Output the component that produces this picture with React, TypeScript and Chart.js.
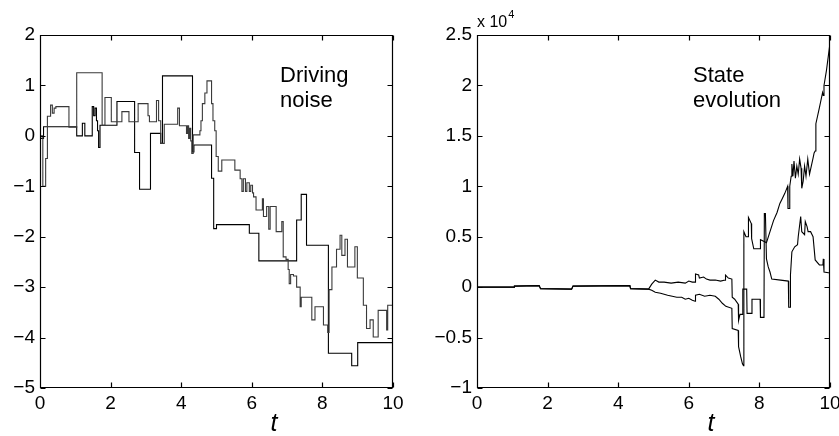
import { useEffect, useRef } from 'react';
import { Chart, registerables } from 'chart.js';

Chart.register(...registerables);

// ---------------- data ----------------
// Left panel: "Driving noise" (two step sample paths)
const noiseTimesA = [0, 0.08, 0.16, 0.21, 0.3, 0.35, 0.4, 0.45, 0.82, 1.04, 1.76, 1.84, 2.02, 2.32, 2.52, 2.78, 3.06, 3.1, 3.3, 3.36, 3.42, 3.52, 3.9, 3.95, 4.15, 4.18, 4.21, 4.24, 4.27, 4.3, 4.34, 4.53, 4.56, 4.6, 4.67, 4.73, 4.86, 4.9, 4.95, 4.99, 5.05, 5.15, 5.52, 5.67, 5.72, 5.76, 5.82, 5.86, 5.93, 5.97, 6.02, 6.05, 6.12, 6.3, 6.33, 6.42, 6.48, 6.52, 6.69, 6.85, 6.89, 6.97, 7.03, 7.06, 7.1, 7.18, 7.27, 7.37, 7.4, 7.7, 7.79, 8.03, 8.15, 8.19, 8.27, 8.4, 8.5, 8.55, 8.64, 8.71, 8.92, 8.99, 9.16, 9.25, 9.35, 9.44, 9.58, 9.82, 9.85, 10];
const noiseValuesA = [0, -1.0, -0.45, 0.39, 0.61, 0.45, 0.55, 0.58, 0.17, 1.25, 0.21, 0.76, 0.28, 0.48, 0.28, 0.64, 0.4, 0.28, 0.7, 0.3, -0.15, 0.23, 0.55, 0.2, 0.05, 0.2, -0.05, 0.15, -0.1, -0.35, 0.02, 0.1, 0.3, 0.64, 0.85, 1.09, 0.64, 0.3, 0.1, -0.41, -0.7, -0.48, -0.68, -0.85, -1.1, -0.85, -1.1, -0.93, -1.1, -0.98, -1.13, -1.21, -1.47, -1.25, -1.6, -1.4, -1.85, -1.4, -1.9, -1.7, -2.4, -2.45, -2.65, -2.93, -2.75, -2.78, -3.0, -3.39, -3.2, -3.65, -3.39, -3.75, -3.9, -3.05, -2.6, -2.25, -1.97, -2.37, -2.05, -2.6, -2.2, -2.82, -3.36, -3.82, -3.65, -3.99, -3.46, -3.85, -3.36, -3.36];

const noiseTimesB = [0, 0.1, 1.04, 1.2, 1.27, 1.48, 1.52, 1.56, 1.6, 1.63, 1.66, 1.7, 2.18, 2.68, 2.82, 3.13, 3.42, 3.47, 4.32, 4.36, 4.86, 4.92, 5.0, 5.93, 6.2, 7.27, 7.4, 7.55, 8.17, 8.83, 9.0, 10];
const noiseValuesB = [-0.05, 0.18, 0.0, 0.25, 0.0, 0.58, 0.4, 0.55, 0.3, 0.1, -0.23, 0.21, 0.68, -0.33, -1.06, 0.05, -0.15, 1.19, -0.32, -0.18, -0.84, -1.84, -1.76, -1.93, -2.48, -1.67, -1.16, -2.17, -4.31, -4.56, -4.1, -4.1];

// Right panel: "State evolution" (values in units of 10^4)
const stateTimesC = [0, 1.05, 1.06, 1.76, 1.8, 2.68, 2.72, 4.33, 4.35, 4.86, 4.95, 5.0, 5.05, 5.15, 5.3, 5.5, 5.7, 5.9, 6.0, 6.1, 6.18, 6.19, 6.28, 6.3, 6.42, 6.5, 6.6, 6.75, 6.9, 7.03, 7.04, 7.12, 7.22, 7.23, 7.3, 7.4, 7.41, 7.45, 7.52, 7.53, 7.64, 7.65, 7.78, 7.79, 8.02, 8.03, 8.13, 8.14, 8.17, 8.2, 8.25, 8.3, 8.35, 8.6, 8.82, 8.83, 8.87, 8.88, 8.92, 9.0, 9.08, 9.1, 9.17, 9.2, 9.28, 9.3, 9.35, 9.38, 9.45, 9.52, 9.58, 9.7, 9.8, 9.81, 9.83, 10];
const stateValuesC = [0, 0, 0.01, 0.015, -0.015, -0.02, 0.01, 0.015, -0.015, -0.02, 0.03, 0.05, 0.07, 0.05, 0.05, 0.04, 0.05, 0.04, 0.06, 0.05, 0.05, 0.13, 0.12, 0.09, 0.1, 0.08, 0.07, 0.07, 0.06, 0.07, 0.12, 0.09, 0.08, -0.1, -0.12, -0.17, -0.33, -0.27, -0.27, -0.02, -0.02, -0.26, -0.26, -0.12, -0.12, -0.3, -0.3, 0.73, 0.73, 0.28, 0.2, 0.15, 0.08, 0.07, 0.06, -0.2, -0.2, 0.12, 0.35, 0.4, 0.42, 0.5, 0.7, 0.55, 0.52, 0.65, 0.6, 0.55, 0.55, 0.5, 0.27, 0.22, 0.22, 0.28, 0.15, 0.14];

const stateTimesD = [0, 1.05, 1.06, 1.76, 1.8, 2.68, 2.72, 4.33, 4.35, 4.86, 4.95, 5.05, 5.2, 5.4, 5.66, 5.8, 5.9, 6.0, 6.1, 6.18, 6.19, 6.3, 6.45, 6.6, 6.75, 6.85, 6.95, 7.05, 7.22, 7.23, 7.4, 7.41, 7.47, 7.52, 7.55, 7.56, 7.62, 7.68, 7.69, 7.77, 7.78, 7.84, 8.02, 8.03, 8.15, 8.2, 8.3, 8.4, 8.5, 8.58, 8.65, 8.72, 8.8, 8.81, 8.84, 8.86, 8.9, 8.92, 8.95, 8.98, 9.02, 9.06, 9.1, 9.14, 9.18, 9.2, 9.24, 9.28, 9.32, 9.37, 9.42, 9.47, 9.52, 9.55, 9.58, 9.6, 9.7, 9.79, 9.81, 9.83, 9.9, 10];
const stateValuesD = [0, 0, 0.01, 0.015, -0.015, -0.02, 0.01, 0.015, -0.015, -0.02, -0.03, -0.05, -0.06, -0.08, -0.1, -0.1, -0.12, -0.11, -0.13, -0.14, -0.08, -0.07, -0.09, -0.08, -0.09, -0.12, -0.16, -0.19, -0.21, -0.41, -0.43, -0.59, -0.69, -0.76, -0.78, 0.55, 0.5, 0.5, 0.69, 0.63, 0.48, 0.38, 0.38, 0.47, 0.45, 0.44, 0.55, 0.66, 0.74, 0.83, 0.88, 0.93, 1.0, 0.78, 0.78, 1.0, 1.1, 1.22, 1.1, 1.25, 1.08, 1.2, 1.12, 1.27, 1.18, 0.98, 1.05, 1.2, 1.1, 1.27, 1.12, 1.2, 1.28, 1.33, 1.35, 1.62, 1.78, 1.93, 1.9, 2.0, 2.15, 2.42];

// Tick values
const timeTicks = [0, 2, 4, 6, 8, 10];
const noiseTicks = [-5, -4, -3, -2, -1, 0, 1, 2];
const stateTicks = [-1, -0.5, 0, 0.5, 1, 1.5, 2, 2.5];

// ---------------- helpers ----------------
const FONT = "'Liberation Sans', Arial, Helvetica, sans-serif";
const fmt = (v: number) => (v < 0 ? '\u2212' + String(Math.abs(v)) : String(v));
const pts = (ts: number[], vs: number[]) => ts.map((t, i) => ({ x: t, y: vs[i] }));

const framePlugin = {
  id: 'frameTicks',
  afterDatasetsDraw(chart: any, _args: any, opts: any) {
    const { ctx, chartArea: a } = chart;
    const xs = chart.scales.x;
    const ys = chart.scales.y;
    const L = Math.round(a.left) + 0.5;
    const R = Math.round(a.right) - 0.5;
    const T = Math.round(a.top) + 0.5;
    const B = Math.round(a.bottom) - 0.5;
    const len = 5;
    ctx.save();
    ctx.strokeStyle = '#000';
    ctx.lineWidth = 1.2;
    ctx.beginPath();
    ctx.rect(L, T, R - L, B - T);
    xs.ticks.forEach((t: any) => {
      const p = Math.round(xs.getPixelForValue(t.value)) + 0.5;
      ctx.moveTo(p, B);
      ctx.lineTo(p, B - len);
      ctx.moveTo(p, T);
      ctx.lineTo(p, T + len);
    });
    ys.ticks.forEach((t: any) => {
      const p = Math.round(ys.getPixelForValue(t.value)) + 0.5;
      ctx.moveTo(L, p);
      ctx.lineTo(L + len, p);
      ctx.moveTo(R, p);
      ctx.lineTo(R - len, p);
    });
    ctx.stroke();

    ctx.fillStyle = '#000';
    ctx.textBaseline = 'alphabetic';
    ctx.textAlign = 'left';
    if (opts.note) {
      const n = opts.note;
      ctx.font = `${n.size}px ${FONT}`;
      const nx = xs.getPixelForValue(n.x);
      const ny = ys.getPixelForValue(n.y);
      n.lines.forEach((s: string, i: number) => ctx.fillText(s, nx, ny + i * n.gap));
    }
    if (opts.xLabel) {
      const l = opts.xLabel;
      ctx.font = `italic ${l.size}px ${FONT}`;
      ctx.textAlign = 'center';
      ctx.fillText(l.text, xs.getPixelForValue(l.x), chart.height - l.bottom);
      ctx.textAlign = 'left';
    }
    if (opts.exponent) {
      ctx.font = `16px ${FONT}`;
      const base = 'x 10';
      const x0 = a.left;
      const yb = a.top - 8;
      ctx.fillText(base, x0, yb);
      const w = ctx.measureText(base).width;
      ctx.font = `11px ${FONT}`;
      ctx.fillText('4', x0 + w + 1, yb - 9);
    }
    ctx.restore();
  },
};

function makeConfig(
  datasets: any[],
  yTicks: number[],
  yMin: number,
  yMax: number,
  yWidth: number,
  padding: any,
  frameOpts: any
): any {
  return {
    type: 'line',
    data: { datasets },
    options: {
      animation: false,
      responsive: false,
      devicePixelRatio: 1,
      events: [],
      layout: { padding },
      plugins: {
        legend: { display: false },
        tooltip: { enabled: false },
        title: { display: false },
        frameTicks: frameOpts,
      },
      elements: { point: { radius: 0 }, line: { borderWidth: 1.1, tension: 0 } },
      scales: {
        x: {
          type: 'linear',
          min: 0,
          max: 10,
          grid: { display: false, drawTicks: false },
          border: { display: false },
          afterBuildTicks: (s: any) => {
            s.ticks = timeTicks.map((v) => ({ value: v }));
          },
          afterFit: (s: any) => {
            s.height = 48;
          },
          ticks: {
            padding: 4,
            color: '#000',
            font: { family: FONT, size: 19 },
            maxRotation: 0,
            autoSkip: false,
            callback: (v: any) => fmt(Number(v)),
          },
        },
        y: {
          type: 'linear',
          min: yMin,
          max: yMax,
          grid: { display: false, drawTicks: false },
          border: { display: false },
          afterBuildTicks: (s: any) => {
            s.ticks = yTicks.map((v) => ({ value: v }));
          },
          afterFit: (s: any) => {
            s.width = yWidth;
          },
          ticks: {
            padding: 5,
            color: '#000',
            font: { family: FONT, size: 19 },
            autoSkip: false,
            callback: (v: any) => fmt(Number(v)),
          },
        },
      },
    },
    plugins: [framePlugin],
  };
}

export default function App() {
  const leftRef = useRef<HTMLCanvasElement>(null);
  const rightRef = useRef<HTMLCanvasElement>(null);

  useEffect(() => {
    const left = new Chart(
      leftRef.current as HTMLCanvasElement,
      makeConfig(
        [
          {
            data: pts(noiseTimesA, noiseValuesA),
            borderColor: '#3a3a3a',
            stepped: true,
            fill: false,
          },
          {
            data: pts(noiseTimesB, noiseValuesB),
            borderColor: '#000000',
            stepped: true,
            fill: false,
          },
        ],
        noiseTicks,
        -5,
        2,
        40,
        { left: 0, top: 35, right: 37, bottom: 0 },
        {
          note: { lines: ['Driving', 'noise'], x: 6.8, y: 1.07, size: 22, gap: 25 },
          xLabel: { text: 't', x: 6.63, bottom: 5, size: 25 },
        }
      )
    );
    const right = new Chart(
      rightRef.current as HTMLCanvasElement,
      makeConfig(
        [
          {
            data: pts(stateTimesC, stateValuesC),
            borderColor: '#000000',
            fill: false,
          },
          {
            data: pts(stateTimesD, stateValuesD),
            borderColor: '#000000',
            fill: false,
          },
        ],
        stateTicks,
        -1,
        2.5,
        47,
        { left: 0, top: 35, right: 20, bottom: 0 },
        {
          note: { lines: ['State', 'evolution'], x: 6.12, y: 2.03, size: 22, gap: 25 },
          xLabel: { text: 't', x: 6.63, bottom: 5, size: 25 },
          exponent: true,
        }
      )
    );
    return () => {
      left.destroy();
      right.destroy();
    };
  }, []);

  return (
    <div
      style={{
        position: 'fixed',
        left: 0,
        top: 0,
        width: 839,
        height: 436,
        overflow: 'hidden',
        background: '#fff',
      }}
    >
      <canvas
        ref={leftRef}
        width={430}
        height={436}
        style={{ position: 'absolute', left: 0, top: 0, width: 430, height: 436 }}
      />
      <canvas
        ref={rightRef}
        width={420}
        height={436}
        style={{ position: 'absolute', left: 430, top: 0, width: 420, height: 436 }}
      />
    </div>
  );
}
